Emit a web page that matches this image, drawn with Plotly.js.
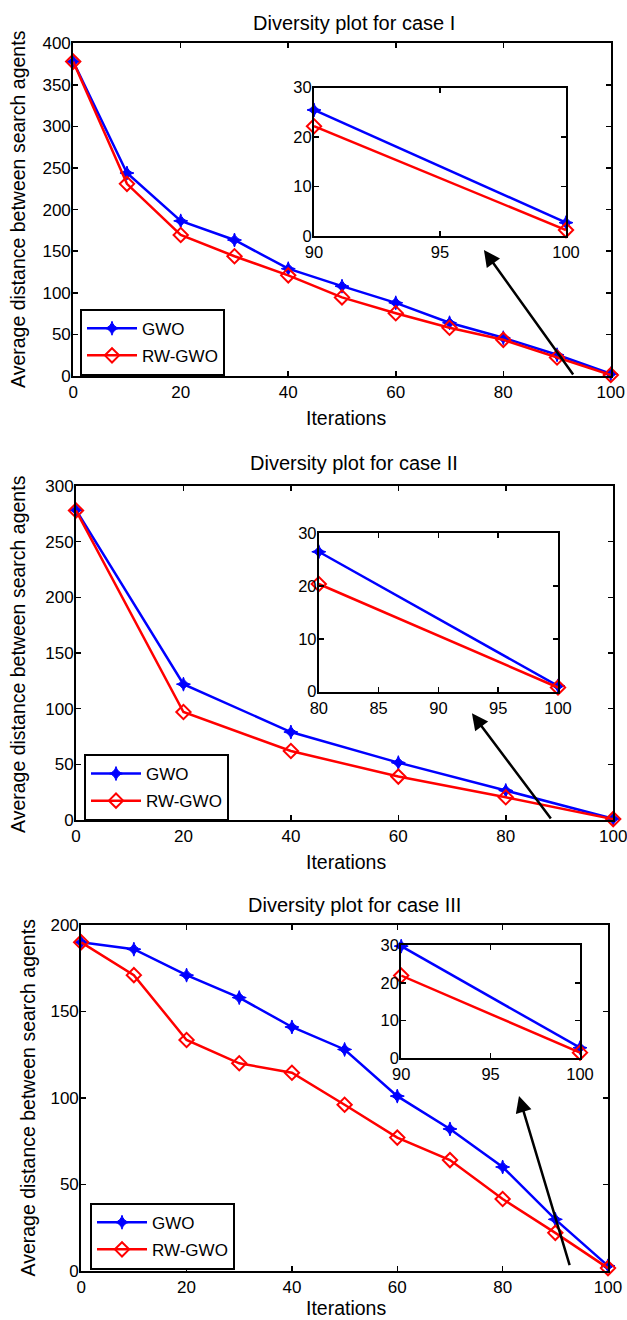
<!DOCTYPE html>
<html>
<head>
<meta charset="utf-8">
<script src="https://cdn.plot.ly/plotly-3.0.1.min.js"></script>
<style>html,body{margin:0;padding:0;background:#fff;}#chart{width:627px;height:1320px;}</style>
</head>
<body>
<div id="chart"></div>
<script>
// ---------- data ----------
const seriesNames = ["GWO", "RW-GWO"];

const case1Iter = [0, 10, 20, 30, 40, 50, 60, 70, 80, 90, 100];
const case1GWO  = [378, 244, 186.5, 163.5, 129, 108, 88, 64, 46, 25.5, 2.7];
const case1RW   = [378, 231, 169.5, 144, 121, 94.5, 75.5, 58, 43.5, 22.2, 1.2];

const case2Iter = [0, 20, 40, 60, 80, 100];
const case2GWO  = [278.5, 122, 79, 51.5, 26.5, 1.1];
const case2RW   = [278, 97, 62, 39, 20.4, 0.8];

const case3Iter = [0, 10, 20, 30, 40, 50, 60, 70, 80, 90, 100];
const case3GWO  = [190, 186, 171, 158, 141, 128, 101, 82, 60, 29.7, 2.8];
const case3RW   = [190, 171, 133.5, 120, 114.5, 96, 77, 64, 41.5, 21.9, 1.5];

const titles = ["Diversity plot for case I", "Diversity plot for case II", "Diversity plot for case III"];
const xTitle = "Iterations";
const yTitle = "Average distance between search agents";

// ---------- layout helpers ----------
const W = 627, H = 1320;
const FONT = "Liberation Sans, Arial, Helvetica, sans-serif";
const dx = (l, r) => [l / W, r / W];
const dy = (top, bottom) => [1 - bottom / H, 1 - top / H];
const px = v => v / W, py = v => 1 - v / H;

const BLUE = "#0000ff", RED = "#ff0000";

function axis(anchor, domain, range, dtick, fs, isY) {
  const a = {
    anchor: anchor, domain: domain, range: range, dtick: dtick, tick0: 0,
    showline: true, linecolor: "black", linewidth: 2, mirror: "ticks",
    ticks: "inside", ticklen: 5, tickwidth: 1.5, tickcolor: "black",
    showgrid: false, zeroline: false, fixedrange: true,
    ticklabeloverflow: "allow",
    tickfont: {family: FONT, size: fs || 17, color: "black"}
  };
  if (isY) a.ticklabelstandoff = -3;
  return a;
}

function sliceFrom(xs, ys, x0) {
  const ox = [], oy = [];
  xs.forEach((x, i) => { if (x >= x0) { ox.push(x); oy.push(ys[i]); } });
  return [ox, oy];
}

const traces = [];
function addPanel(iter, gwo, rw, xa, ya, xi, yi, insetStart, legendId) {
  traces.push({
    x: iter, y: gwo, name: seriesNames[0], xaxis: xa, yaxis: ya, legend: legendId,
    legendgroup: "g" + legendId, mode: "lines+markers", cliponaxis: false,
    line: {color: BLUE, width: 2.5},
    marker: {symbol: "star-diamond", size: 10, color: BLUE, line: {color: BLUE, width: 1}}
  });
  traces.push({
    x: iter, y: rw, name: seriesNames[1], xaxis: xa, yaxis: ya, legend: legendId,
    legendgroup: "r" + legendId, mode: "lines+markers", cliponaxis: false,
    line: {color: RED, width: 2.5},
    marker: {symbol: "diamond-open", size: 11, color: RED, line: {color: RED, width: 2}}
  });
  const g = sliceFrom(iter, gwo, insetStart);
  const r = sliceFrom(iter, rw, insetStart);
  traces.push({
    x: g[0], y: g[1], xaxis: xi, yaxis: yi, showlegend: false, mode: "lines+markers", cliponaxis: false,
    line: {color: BLUE, width: 2.5},
    marker: {symbol: "star-diamond", size: 10, color: BLUE, line: {color: BLUE, width: 1}}
  });
  traces.push({
    x: r[0], y: r[1], xaxis: xi, yaxis: yi, showlegend: false, mode: "lines+markers", cliponaxis: false,
    line: {color: RED, width: 2.5},
    marker: {symbol: "diamond-open", size: 11, color: RED, line: {color: RED, width: 2}}
  });
}

addPanel(case1Iter, case1GWO, case1RW, "x", "y", "x2", "y2", 90, "legend");
addPanel(case2Iter, case2GWO, case2RW, "x3", "y3", "x4", "y4", 80, "legend2");
addPanel(case3Iter, case3GWO, case3RW, "x5", "y5", "x6", "y6", 90, "legend3");

function legendAt(left, top) {
  return {
    x: px(left), y: py(top), xanchor: "left", yanchor: "top",
    bordercolor: "black", borderwidth: 2, bgcolor: "white",
    font: {family: FONT, size: 17, color: "black"},
    tracegroupgap: 2, itemwidth: 50
  };
}

function textAnn(text, x, y, size, angle) {
  return {text: text, xref: "paper", yref: "paper", x: px(x), y: py(y),
    xanchor: "center", yanchor: "middle", showarrow: false, textangle: angle || 0,
    font: {family: FONT, size: size, color: "black"}};
}
function arrowAnn(xr, yr, tail, head) {
  return {xref: xr, yref: yr, axref: xr, ayref: yr, x: head[0], y: head[1], ax: tail[0], ay: tail[1],
    text: "", showarrow: true, arrowhead: 2, arrowsize: 1.3, arrowwidth: 2.5, arrowcolor: "black"};
}

const layout = {
  width: W, height: H, margin: {l: 0, r: 0, t: 0, b: 0},
  paper_bgcolor: "white", plot_bgcolor: "white",
  font: {family: FONT, color: "black"},
  xaxis:  axis("y",  dx(73.2, 610.8), [0, 100], 20),
  yaxis:  axis("x",  dy(43.3, 376), [0, 400], 50, 17, true),
  xaxis2: axis("y2", dx(314, 566), [90, 100], 5, 16.5),
  yaxis2: axis("x2", dy(87.7, 236), [0, 30], 10, 16.5, true),
  xaxis3: axis("y3", dx(76, 613.2), [0, 100], 20),
  yaxis3: axis("x3", dy(486, 820), [0, 300], 50, 17, true),
  xaxis4: axis("y4", dx(318.8, 558), [80, 100], 5, 16.5),
  yaxis4: axis("x4", dy(533.3, 691.7), [0, 30], 10, 16.5, true),
  xaxis5: axis("y5", dx(81.2, 608), [0, 100], 20),
  yaxis5: axis("x5", dy(925, 1270.7), [0, 200], 50, 17, true),
  xaxis6: axis("y6", dx(401.2, 580), [90, 100], 5, 16.5),
  yaxis6: axis("x6", dy(945, 1058.3), [0, 30], 10, 16.5, true),
  legend:  legendAt(80, 308.7),
  legend2: legendAt(84, 754),
  legend3: legendAt(90, 1202.7),
  showlegend: true,
  annotations: [
    textAnn(titles[0], 354, 22.7, 20),
    textAnn(titles[1], 354, 463.3, 20),
    textAnn(titles[2], 354.5, 905, 20),
    textAnn(xTitle, 346, 418, 19.5),
    textAnn(xTitle, 346, 861.7, 19.5),
    textAnn(xTitle, 346, 1307.5, 19.5),
    textAnn(yTitle, 18, 209, 19.5, -90),
    textAnn(yTitle, 18, 654, 19.5, -90),
    textAnn(yTitle, 27, 1097.5, 19.5, -90),
    arrowAnn("x", "y", [93.2, 0], [76.4, 151.5]),
    arrowAnn("x3", "y3", [88.6, 0], [73.7, 95.8]),
    arrowAnn("x5", "y5", [92.8, 2.3], [83.1, 101])
  ]
};

Plotly.newPlot("chart", traces, layout, {displayModeBar: false, staticPlot: true});
</script>
</body>
</html>
